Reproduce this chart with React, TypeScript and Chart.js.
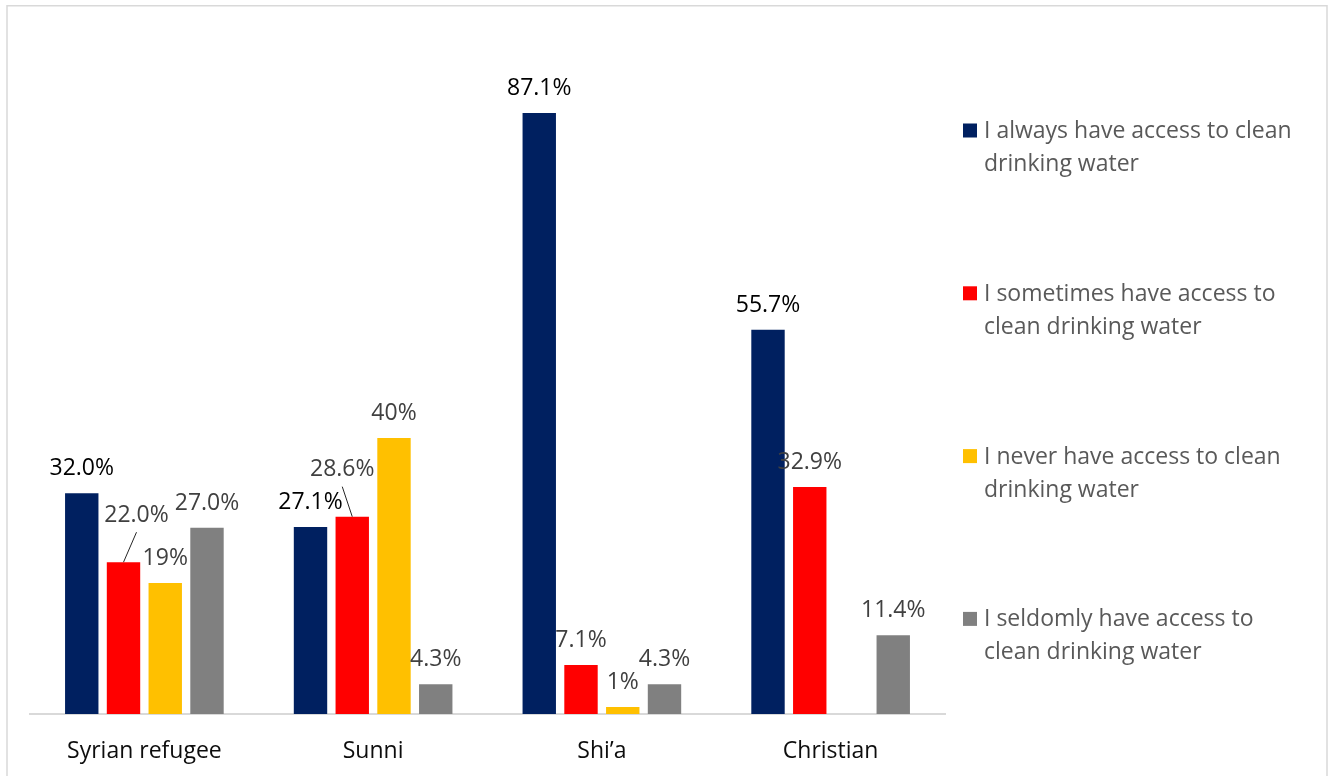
import React, { useEffect, useRef } from "react";
import { Chart, registerables } from "chart.js";

Chart.register(...registerables);

const categories = ["Syrian refugee", "Sunni", "Shi\u2019a", "Christian"];

const seriesNames = [
  "I always have access to clean drinking water",
  "I sometimes have access to clean drinking water",
  "I never have access to clean drinking water",
  "I seldomly have access to clean drinking water",
];

const legendLines = [
  ["I always have access to clean", "drinking water"],
  ["I sometimes have access to", "clean drinking water"],
  ["I never have access to clean", "drinking water"],
  ["I seldomly have access to", "clean drinking water"],
];

const alwaysValues = [32.0, 27.1, 87.1, 55.7];
const sometimesValues = [22.0, 28.6, 7.1, 32.9];
const neverValues: (number | null)[] = [19, 40, 1, null];
const seldomValues = [27.0, 4.3, 4.3, 11.4];

const seriesDecimals = [1, 1, 0, 1];
const seriesColors = ["#002060", "#FF0000", "#FFC000", "#808080"];
const labelColors = ["#000000", "#404040", "#404040", "#404040"];

const FONT = '"Open Sans", sans-serif';

// label offsets (for labels moved with a leader line): key = "dataset-index"
const movedLabels: Record<string, { dx: number; dy: number }> = {
  "1-0": { dx: 13, dy: -47 },
  "1-1": { dx: -10, dy: -47 },
};

const framePlugin = {
  id: "frame",
  beforeDraw(chart: any) {
    const ctx = chart.ctx;
    ctx.save();
    ctx.fillStyle = "#ffffff";
    ctx.fillRect(0, 0, chart.width, chart.height);
    ctx.strokeStyle = "#d9d9d9";
    ctx.lineWidth = 1.5;
    ctx.strokeRect(7, 5.75, 1320, 900);
    ctx.restore();
  },
};

const labelsPlugin = {
  id: "valueLabels",
  afterDatasetsDraw(chart: any) {
    const ctx = chart.ctx;
    ctx.save();
    ctx.font = `23px ${FONT}`;
    ctx.textAlign = "center";
    ctx.textBaseline = "middle";
    chart.data.datasets.forEach((ds: any, di: number) => {
      const meta = chart.getDatasetMeta(di);
      meta.data.forEach((bar: any, i: number) => {
        const v = ds.data[i];
        if (v === null || v === undefined) return;
        const text = `${v.toFixed(seriesDecimals[di])}%`;
        const moved = movedLabels[`${di}-${i}`];
        let cx = bar.x;
        let cy = bar.y - 24.5;
        if (moved) {
          cx = bar.x + moved.dx;
          cy = bar.y + moved.dy;
          ctx.strokeStyle = "#262626";
          ctx.lineWidth = 1;
          ctx.beginPath();
          ctx.moveTo(cx, cy + 17);
          ctx.lineTo(bar.x, bar.y);
          ctx.stroke();
        }
        ctx.fillStyle = labelColors[di];
        ctx.fillText(text, cx, cy);
      });
    });
    ctx.restore();
  },
};

const legendPlugin = {
  id: "sideLegend",
  afterDraw(chart: any) {
    const ctx = chart.ctx;
    ctx.save();
    ctx.font = `23px ${FONT}`;
    ctx.textAlign = "left";
    ctx.textBaseline = "middle";
    const firstY = 130.5;
    const step = 162.8;
    const lineH = 33;
    chart.data.datasets.forEach((ds: any, di: number) => {
      const y = firstY + step * di;
      ctx.fillStyle = ds.backgroundColor;
      ctx.fillRect(963, y - 7, 14, 14);
      ctx.fillStyle = "#595959";
      legendLines[di].forEach((line, li) => {
        ctx.fillText(line, 984, y + 1 + li * lineH);
      });
    });
    ctx.restore();
  },
};

export default function App() {
  const canvasRef = useRef<HTMLCanvasElement | null>(null);

  useEffect(() => {
    document.body.style.margin = "0";
    const canvas = canvasRef.current;
    if (!canvas) return;
    Chart.defaults.font.family = FONT;
    const valueSets = [alwaysValues, sometimesValues, neverValues, seldomValues];
    const chart = new Chart(canvas, {
      type: "bar",
      data: {
        labels: categories,
        datasets: valueSets.map((vals, di) => ({
          label: seriesNames[di],
          data: vals,
          backgroundColor: seriesColors[di],
          borderWidth: 0,
          barPercentage: 0.8,
          categoryPercentage: 0.73,
        })),
      },
      options: {
        responsive: false,
        animation: false,
        devicePixelRatio: 1,
        layout: { padding: { left: 30, right: 386, top: 24, bottom: 0 } },
        plugins: {
          legend: { display: false },
          tooltip: { enabled: false },
          title: { display: false },
        },
        scales: {
          x: {
            grid: { display: false },
            border: { display: true, color: "#d9d9d9", width: 2 },
            ticks: {
              color: "#0d0d0d",
              font: { family: FONT, size: 23 },
              padding: 16,
              maxRotation: 0,
              autoSkip: false,
            },
            afterFit: (scale: any) => {
              scale.height = 62;
            },
          },
          y: {
            display: false,
            min: 0,
            max: 100,
          },
        },
      },
      plugins: [framePlugin, labelsPlugin, legendPlugin],
    });
    return () => chart.destroy();
  }, []);

  return (
    <div style={{ width: 1331, height: 776, overflow: "hidden" }}>
      <canvas ref={canvasRef} width={1331} height={776} style={{ display: "block" }} />
    </div>
  );
}
